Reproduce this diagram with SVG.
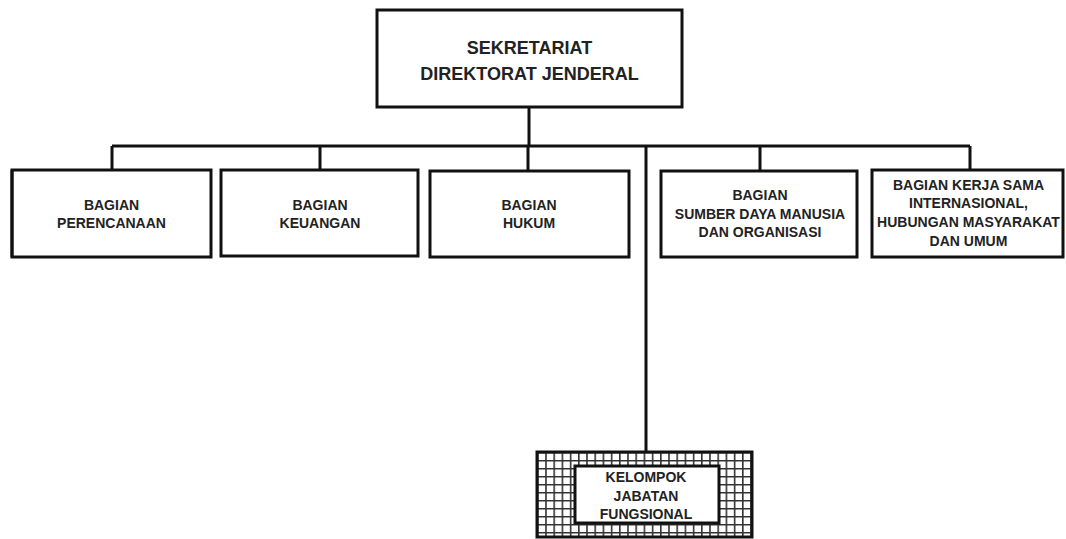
<svg xmlns="http://www.w3.org/2000/svg" width="1066" height="539" viewBox="0 0 1066 539">
<style>
.box{fill:#fff;stroke:#111;stroke-width:3}
.ln{stroke:#111;stroke-width:3;fill:none}
.t{font-family:"Liberation Sans",Arial,sans-serif;font-weight:bold;fill:#222;text-anchor:middle}
.s{font-size:14px}
.b{font-size:18px}
</style>
<defs>
<pattern id="grid" x="537" y="452" width="8.2" height="8" patternUnits="userSpaceOnUse">
<rect width="8.2" height="8" fill="#fff"/>
<path d="M0 0.8H8.2M0.8 0V8" stroke="#333" stroke-width="1.6" fill="none"/>
</pattern>
</defs>
<rect width="1066" height="539" fill="#fff"/>
<g id="connectors">
<line class="ln" x1="529" y1="107" x2="529" y2="146"/>
<line class="ln" x1="112" y1="146" x2="970" y2="146"/>
<line class="ln" x1="112" y1="146" x2="112" y2="170"/>
<line class="ln" x1="320" y1="146" x2="320" y2="170"/>
<line class="ln" x1="528" y1="146" x2="528" y2="171"/>
<line class="ln" x1="760" y1="146" x2="760" y2="171"/>
<line class="ln" x1="970" y1="146" x2="970" y2="170"/>
<line class="ln" x1="646" y1="146" x2="646" y2="452"/>
</g>
<g id="sekretariat">
<rect class="box" x="377" y="10" width="305" height="97"/>
<text class="t b" x="529.5" y="54">SEKRETARIAT</text>
<text class="t b" x="529.5" y="80">DIREKTORAT JENDERAL</text>
</g>
<g id="perencanaan">
<rect class="box" x="12" y="170" width="199" height="87"/>
<line class="ln" x1="12" y1="170" x2="12" y2="257" stroke-width="4.5"/>
<text class="t s" x="111.5" y="210">BAGIAN</text>
<text class="t s" x="111.5" y="228">PERENCANAAN</text>
</g>
<g id="keuangan">
<rect class="box" x="221" y="170" width="197" height="86"/>
<text class="t s" x="320" y="210">BAGIAN</text>
<text class="t s" x="320" y="228">KEUANGAN</text>
</g>
<g id="hukum">
<rect class="box" x="430" y="171" width="199" height="86"/>
<text class="t s" x="529" y="210">BAGIAN</text>
<text class="t s" x="529" y="228">HUKUM</text>
</g>
<g id="sdm">
<rect class="box" x="661" y="171" width="196" height="86"/>
<text class="t s" x="760" y="200">BAGIAN</text>
<text class="t s" x="760" y="219">SUMBER DAYA MANUSIA</text>
<text class="t s" x="760" y="237">DAN ORGANISASI</text>
</g>
<g id="kerjasama">
<rect class="box" x="872" y="170" width="191" height="87"/>
<text class="t s" x="968.5" y="190">BAGIAN KERJA SAMA</text>
<text class="t s" x="968.5" y="208">INTERNASIONAL,</text>
<text class="t s" x="968.5" y="227">HUBUNGAN MASYARAKAT</text>
<text class="t s" x="968.5" y="246">DAN UMUM</text>
</g>
<g id="fungsional">
<rect x="537" y="452" width="215" height="85" fill="url(#grid)" stroke="#111" stroke-width="3"/>
<rect class="box" x="575" y="466" width="144" height="57"/>
<text class="t s" x="646" y="482">KELOMPOK</text>
<text class="t s" x="646" y="501">JABATAN</text>
<text class="t s" x="646" y="519">FUNGSIONAL</text>
</g>
</svg>
